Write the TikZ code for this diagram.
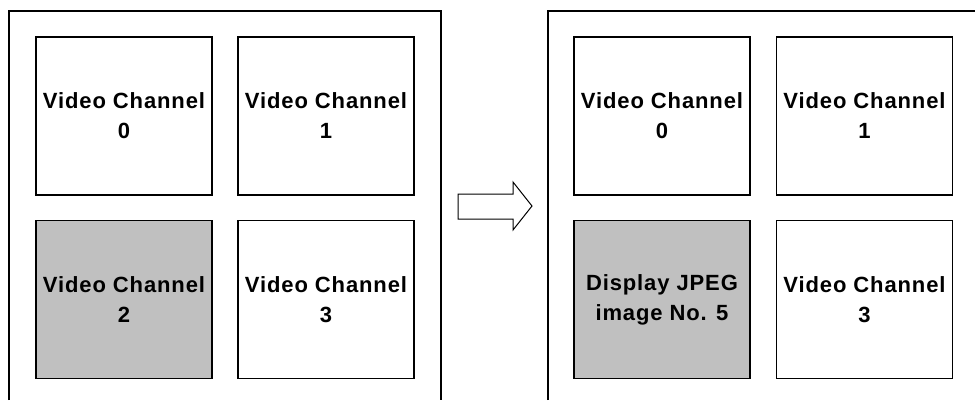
\documentclass[tikz,border=0pt]{standalone}
\usepackage{fontspec}
\setmainfont{Liberation Sans}
\newfontfamily\chanfont[LetterSpace=4]{Liberation Sans}
\usepackage{tikz}
\usetikzlibrary{positioning,calc}

\tikzset{
  chanbox/.style={draw, line width=1.5pt, minimum width=176pt, minimum height=158pt,
    inner sep=0pt, align=center, font=\chanfont\bfseries\fontsize{22}{30}\selectfont},
  shadebox/.style={chanbox, fill=shade},
  frameline/.style={line width=1.5pt}
}
\definecolor{shade}{HTML}{C0C0C0}

\begin{document}
\begin{tikzpicture}[x=1pt,y=-1pt]
\useasboundingbox (0,0) rectangle (975,400);
% before
\begin{scope}[xshift=0pt]
\draw[frameline] (9,400) -- (9,11) -- (441,11) -- (441,400);
\node[chanbox] (l0) at (124,116) {Video Channel\\0};
\node[chanbox] (l1) at (326,116) {Video Channel\\1};
\node[shadebox] (l2) at (124,299.5) {Video Channel\\2};
\node[chanbox] (l3) at (326,299.5) {Video Channel\\3};
\end{scope}
% after
\begin{scope}[xshift=539pt]
\draw[frameline] (9,400) -- (9,11) -- (436,11);
\node[chanbox] (r0) at (123,116) {Video Channel\\0};
\node[chanbox] (r1) at (325.5,116) {Video Channel\\1};
\node[shadebox] (r2) at (123,299.5) {Display JPEG\\image No. 5};
\node[chanbox] (r3) at (325.5,299.5) {Video Channel\\3};
\end{scope}
% block arrow
\draw[line width=1pt] (458,194) -- (513,194) -- (513,182) -- (532,206) -- (513,230)
  -- (513,219) -- (458,219) -- cycle;
\end{tikzpicture}
\end{document}
